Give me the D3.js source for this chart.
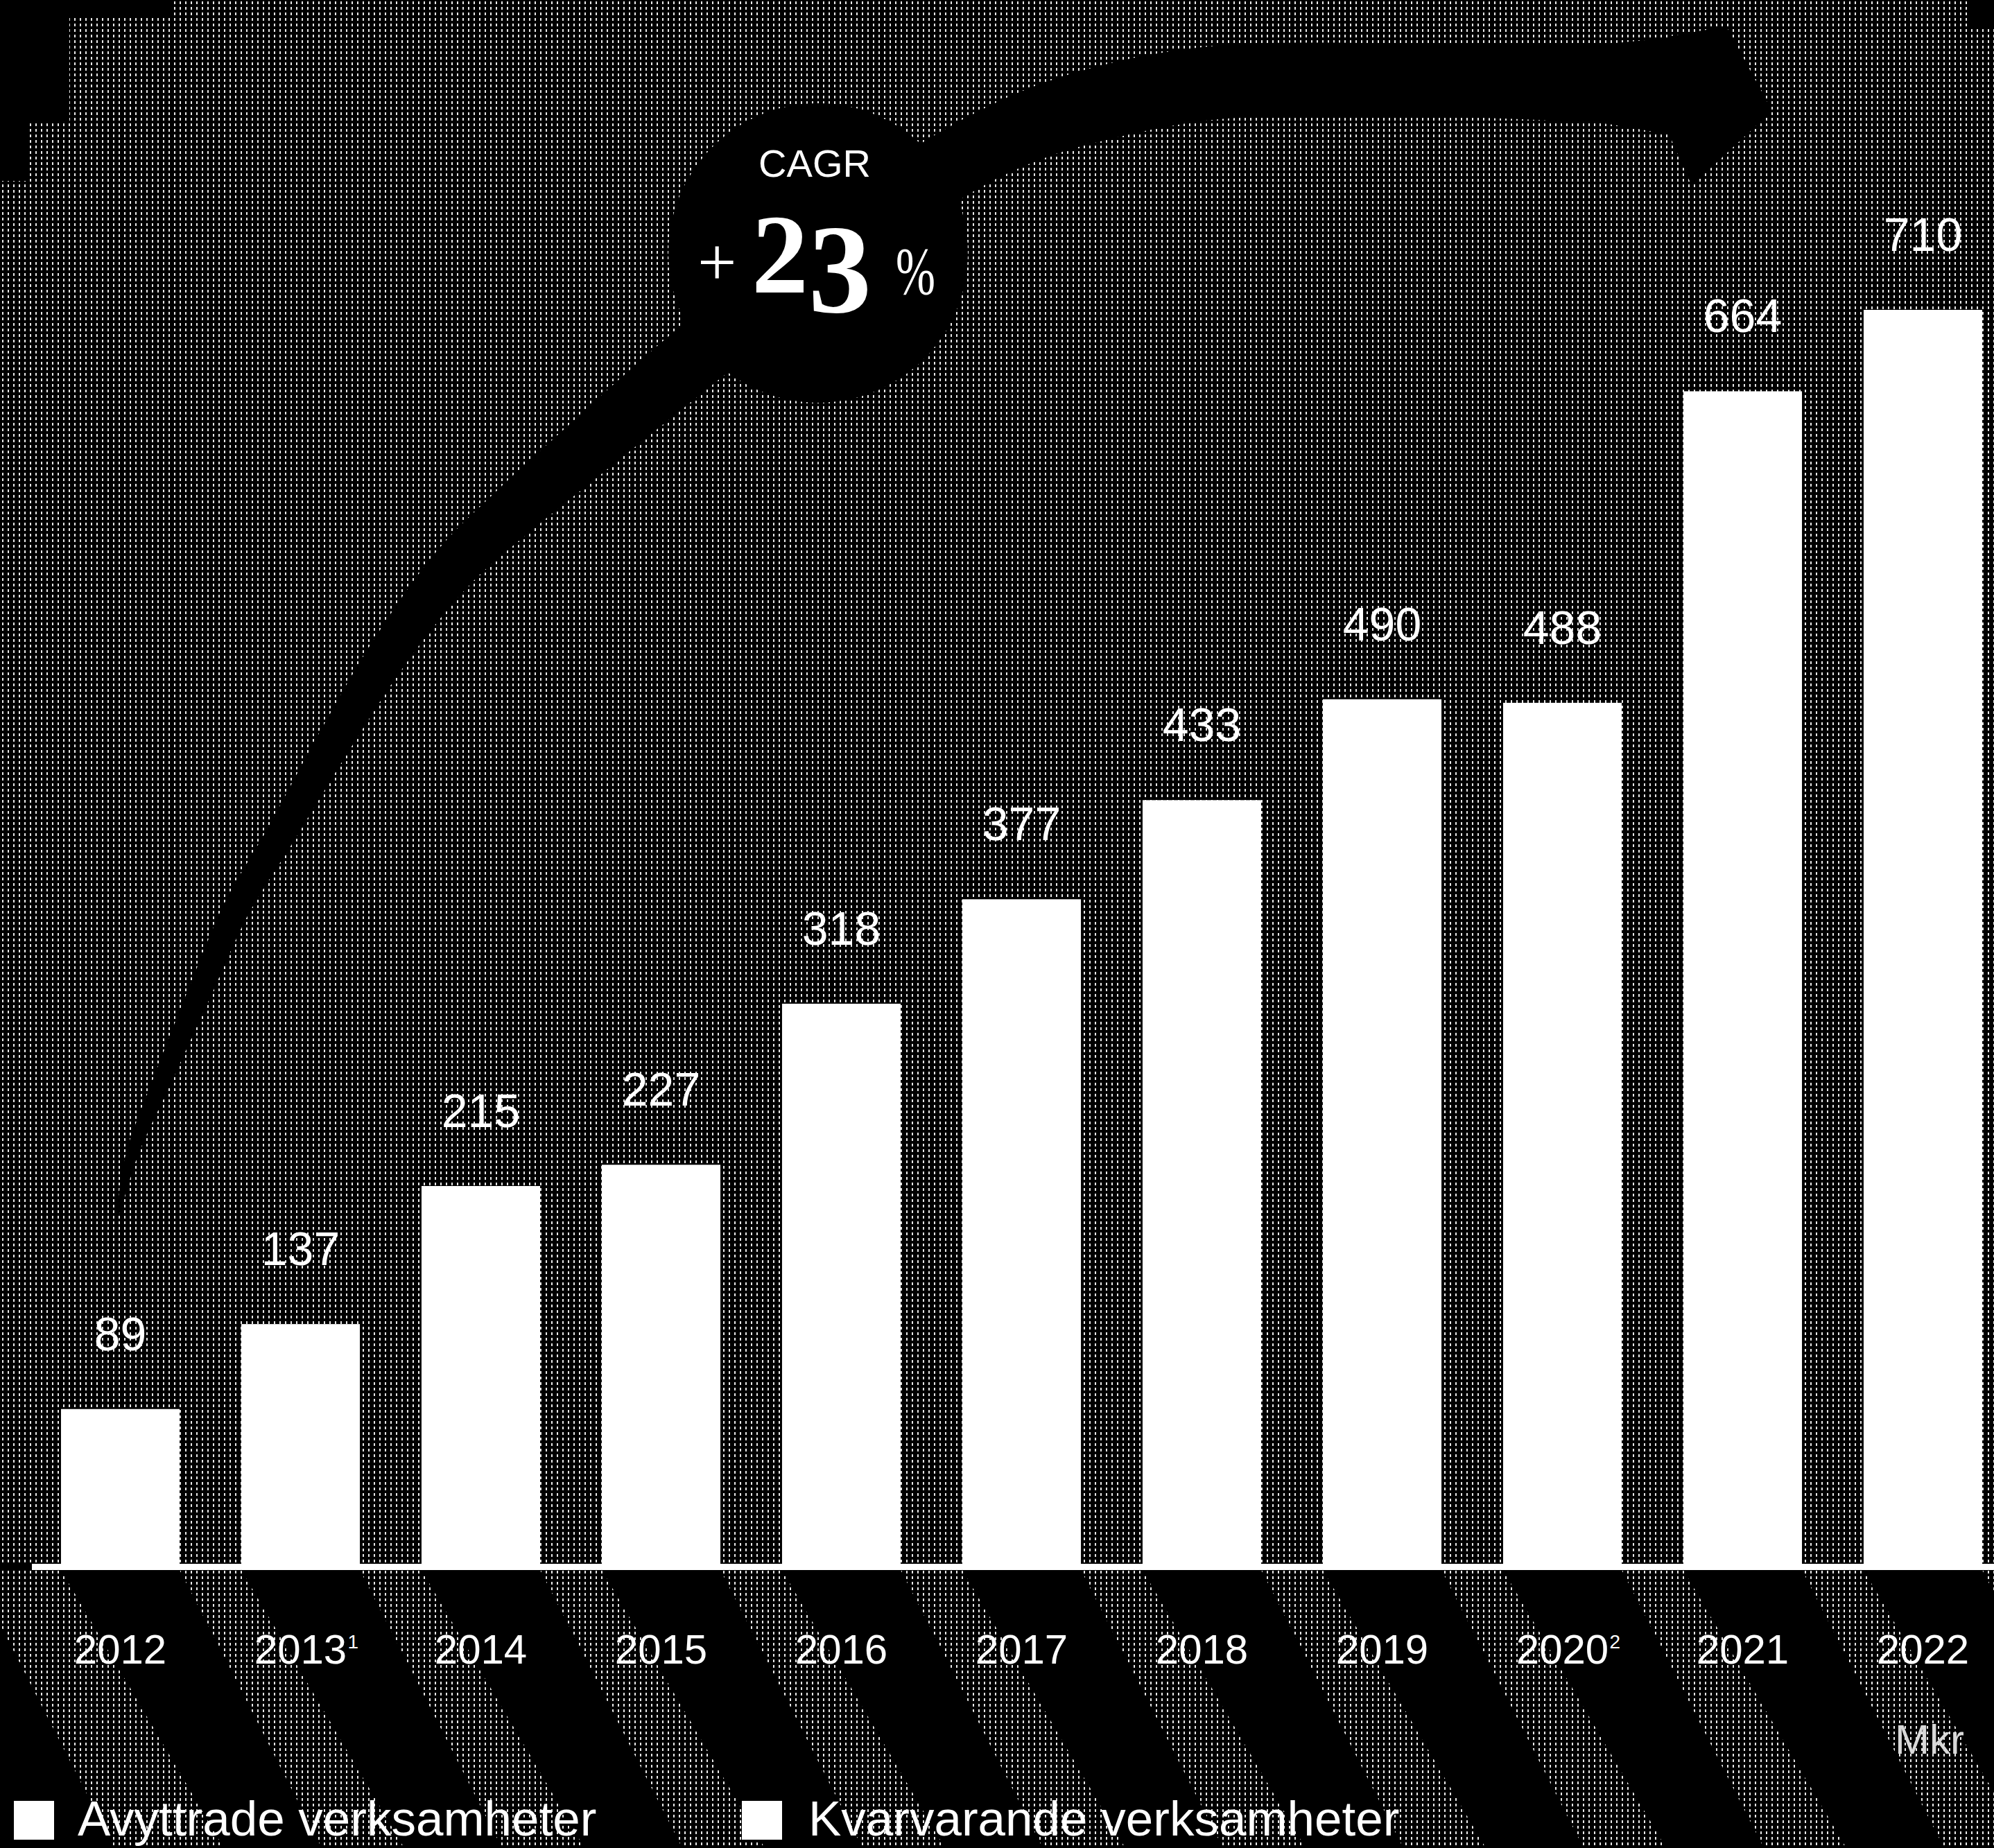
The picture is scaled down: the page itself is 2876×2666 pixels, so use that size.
<!DOCTYPE html>
<html>
<head>
<meta charset="utf-8">
<script src="https://cdn.jsdelivr.net/npm/d3@7"></script>
<style>
  html, body { margin: 0; padding: 0; background: #000; }
  svg { display: block; }
</style>
</head>
<body>
<script>
// ---- data ----
const years = ["2012","2013","2014","2015","2016","2017","2018","2019","2020","2021","2022"];
const values = [89, 137, 215, 227, 318, 377, 433, 490, 488, 664, 710];
const footnotes = ["", "1", "", "", "", "", "", "", "2", "", ""];
const legendLabels = ["Avyttrade verksamheter", "Kvarvarande verksamheter"];
const cagrTitle = "CAGR";
const cagrValue = "23";
const unitLabel = "Mkr";

// ---- decorative geometry (arrow spine: x, y, width) ----
const arrowSpine = [
  [170,1752,4],[180,1705,12],[192,1660,18],[233,1561,26],[290,1427,34],[341,1311,38],
  [405,1204,42],[482,1070,50],[565,936,58],[655,818,68],[740,738,76],[840,652,84],[947,561,92],
  [1060,468,96],[1175,380,100],[1290,292,100],[1400,222,98],[1500,176,102],[1601,146,106],
  [1700,126,106],[1802,116,106],[2104,116,106],[2300,120,114],[2450,126,116]
];
const arrowHead = [[2410,52],[2490,38],[2556,160],[2440,268],[2410,200]];

const W = 2876, H = 2666;
const svg = d3.select("body").append("svg").attr("width", W).attr("height", H);
const defs = svg.append("defs");
const pat = defs.append("pattern").attr("id","ht").attr("patternUnits","userSpaceOnUse")
  .attr("width", 8).attr("height", 8);
pat.append("rect").attr("width",8).attr("height",8).attr("fill","#000");
pat.append("rect").attr("x",3).attr("y",2).attr("width",2).attr("height",4).attr("fill","#e8e8e8");

const baseY = 2260;
const x = d3.scaleBand().domain(years).range([43.5, 2903.5]).paddingInner(0.342).paddingOuter(0.171);
const y = d3.scaleLinear().domain([0, 710]).range([baseY, 447]);

// background
svg.append("rect").attr("width", W).attr("height", H).attr("fill", "#000");
svg.append("rect").attr("x",0).attr("y",0).attr("width",W).attr("height",2257).attr("fill","url(#ht)");
// black corners
[[0,0,100,178],[0,178,37,83],[0,0,248,25],[2838,0,38,42]].forEach(r =>
  svg.append("rect").attr("x",r[0]).attr("y",r[1]).attr("width",r[2]).attr("height",r[3]).attr("fill","#000"));

// diagonal stripes below the axis (in the gaps between bars)
const gaps = [];
for (let k = 0; k <= years.length; k++) {
  const gl = k === 0 ? -40 : x(years[k-1]) + x.bandwidth();
  const gr = k === years.length ? W + 80 : x(years[k]);
  gaps.push([gl, gr]);
}
svg.append("g").selectAll("path").data(gaps).join("path")
  .attr("d", g => `M${g[0]},2265 L${g[1]},2265 L${g[1]+235},${H} L${g[0]+205},${H} Z`)
  .attr("fill", "url(#ht)");

// arrow
const lefts = [], rights = [];
arrowSpine.forEach((p, i) => {
  const a = arrowSpine[Math.max(0, i-1)], b = arrowSpine[Math.min(arrowSpine.length-1, i+1)];
  let tx = b[0]-a[0], ty = b[1]-a[1];
  const len = Math.hypot(tx, ty); tx /= len; ty /= len;
  const nx = -ty, ny = tx;
  lefts.push([p[0] + nx*p[2]/2, p[1] + ny*p[2]/2]);
  rights.push([p[0] - nx*p[2]/2, p[1] - ny*p[2]/2]);
});
const line = d3.line().curve(d3.curveCatmullRom);
svg.append("path").attr("d", line(lefts.concat(rights.reverse())) + "Z").attr("fill", "#000");
svg.append("path").attr("d", "M" + arrowHead.map(p => p.join(",")).join("L") + "Z").attr("fill", "#000");
svg.append("circle").attr("cx", 1180).attr("cy", 365).attr("r", 216).attr("fill", "#000");

// bars
svg.append("g").selectAll("rect").data(years).join("rect")
  .attr("x", d => x(d)).attr("width", x.bandwidth())
  .attr("y", (d, i) => y(values[i])).attr("height", (d, i) => baseY - y(values[i]))
  .attr("fill", "#fff");

// axis line
svg.append("rect").attr("x", 46).attr("y", 2256).attr("width", W - 46).attr("height", 9).attr("fill", "#fff");

const sans = "'Liberation Sans', Arial, Helvetica, sans-serif";
const serif = "'Liberation Serif', 'Times New Roman', serif";

// value labels
svg.append("g").selectAll("text").data(years).join("text")
  .attr("x", d => x(d) + x.bandwidth()/2)
  .attr("y", (d, i) => y(values[i]) - 85)
  .attr("text-anchor", "middle").attr("font-family", sans).attr("font-size", 68)
  .attr("fill", "#fff").text((d, i) => values[i]);

// year labels
const xAxis = svg.append("g").attr("transform", `translate(0,${baseY})`)
  .call(d3.axisBottom(x).tickSize(0).tickPadding(0));
xAxis.select(".domain").remove();
xAxis.selectAll(".tick text")
  .attr("y", 140).attr("dy", 0)
  .attr("font-family", sans).attr("font-size", 60).attr("fill", "#fff");
svg.append("g").selectAll("text").data(years.filter((d, i) => footnotes[i])).join("text")
  .attr("x", d => x(d) + x.bandwidth()/2 + 68)
  .attr("y", baseY + 140 - 22)
  .attr("font-family", sans).attr("font-size", 28).attr("fill", "#fff")
  .text(d => footnotes[years.indexOf(d)]);

// CAGR
svg.append("text").attr("x", 1175).attr("y", 255).attr("text-anchor", "middle")
  .attr("font-family", sans).attr("font-size", 56).attr("fill", "#fff").text(cagrTitle);
svg.append("text").attr("x", 1006).attr("y", 412)
  .attr("font-family", serif).attr("font-size", 100).attr("fill", "#fff").text("+");
const big = svg.append("text").attr("x", 1084).attr("y", 422)
  .attr("font-family", serif).attr("font-weight", "bold").attr("font-size", 164).attr("fill", "#fff");
big.append("tspan").text(cagrValue[0]);
big.append("tspan").attr("dy", 28).attr("font-size", 182).text(cagrValue[1]);
svg.append("text").attr("x", 1292).attr("y", 424)
  .attr("font-family", serif).attr("font-size", 98).attr("fill", "#fff")
  .attr("textLength", 57).attr("lengthAdjust", "spacingAndGlyphs").text("%");

// unit
svg.append("text").attr("x", 2833).attr("y", 2530).attr("text-anchor", "end")
  .attr("font-family", sans).attr("font-weight", 300).attr("font-size", 60).attr("fill", "#d8d8d8").text(unitLabel);

// legend
const legendX = [20, 1070];
const lg = svg.append("g").selectAll("g").data(legendLabels).join("g")
  .attr("transform", (d, i) => `translate(${legendX[i]},0)`);
lg.append("rect").attr("x", 0).attr("y", 2598).attr("width", 58).attr("height", 56).attr("fill", "#fff");
lg.append("text").attr("x", (d, i) => i === 0 ? 92 : 96).attr("y", 2648)
  .attr("font-family", sans).attr("font-size", 71).attr("fill", "#fff").text(d => d);
</script>
</body>
</html>
